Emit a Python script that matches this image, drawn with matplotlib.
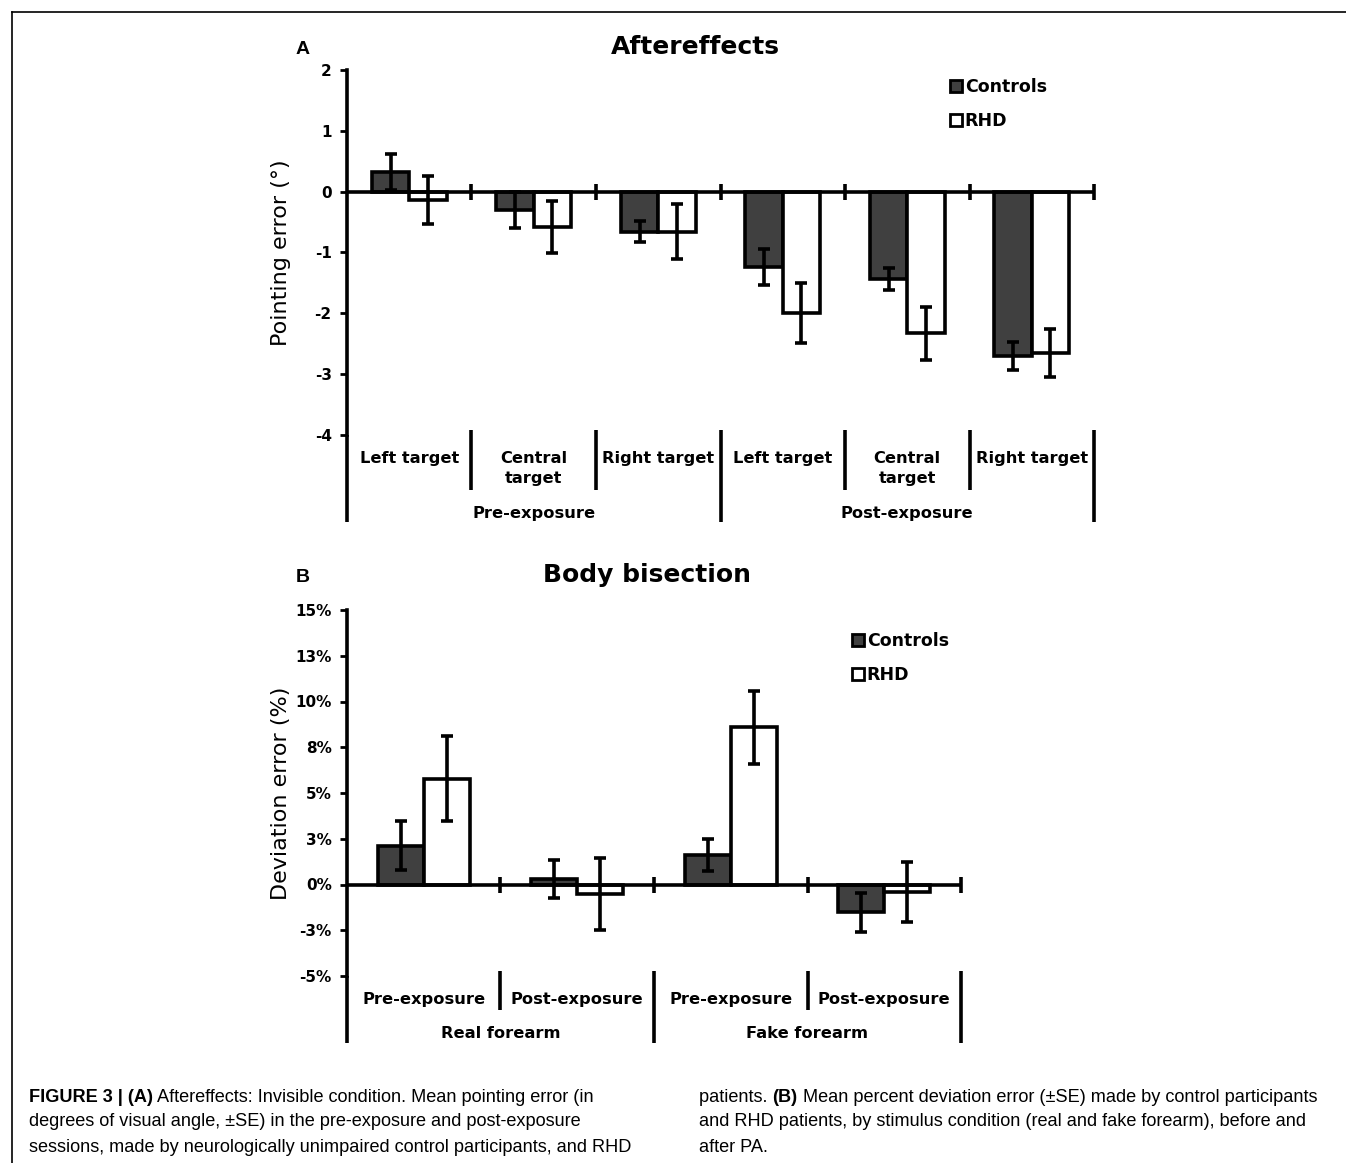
import numpy as np
import matplotlib
matplotlib.use('Agg')
from matplotlib import pyplot as plt
from matplotlib.lines import Line2D
from matplotlib.patches import Patch
import matplotlib.transforms as mtransforms

# Panel A: aftereffects (pointing error, degrees)
a_targets = ['Left target', 'Central\ntarget', 'Right target',
             'Left target', 'Central\ntarget', 'Right target']
a_groups = ['Pre-exposure', 'Post-exposure']
a_controls = [0.32, -0.30, -0.66, -1.24, -1.43, -2.70]
a_controls_se = [0.30, 0.29, 0.17, 0.30, 0.18, 0.23]
a_rhd = [-0.14, -0.58, -0.66, -1.99, -2.33, -2.65]
a_rhd_se = [0.39, 0.43, 0.45, 0.49, 0.44, 0.40]
a_yticks = [2, 1, 0, -1, -2, -3, -4]

# Panel B: body bisection (deviation error, %)
b_conditions = ['Pre-exposure', 'Post-exposure', 'Pre-exposure', 'Post-exposure']
b_groups = ['Real forearm', 'Fake forearm']
b_controls = [2.12, 0.31, 1.60, -1.52]
b_controls_se = [1.34, 1.05, 0.87, 1.07]
b_rhd = [5.78, -0.51, 8.60, -0.42]
b_rhd_se = [2.32, 1.95, 2.00, 1.64]
b_yticks = [15, 12.5, 10, 7.5, 5, 2.5, 0, -2.5, -5]
b_yticklabels = ['15%', '13%', '10%', '8%', '5%', '3%', '0%', '-3%', '-5%']

CTRL_COLOR = '#404040'
LW = 2.6
W, H = 1346, 1163


def draw_panel(ax, labels, groups, ctrl, ctrl_se, rhd, rhd_se, yticks, yticklabels,
               ylim, ylabel, title, letter, lab_y, grp_y, short_y, long_y,
               legend_anchor, title_x, title_y, letter_xy, ylabel_px):
    n = len(labels)
    x = np.arange(n)
    w = 0.3
    err_kw = dict(ecolor='black', elinewidth=LW, capsize=4, capthick=LW)
    ax.bar(x - w / 2, ctrl, w, color=CTRL_COLOR, edgecolor='black', linewidth=LW,
           yerr=ctrl_se, error_kw=err_kw, zorder=2)
    ax.bar(x + w / 2, rhd, w, color='white', edgecolor='black', linewidth=LW,
           yerr=rhd_se, error_kw=err_kw, zorder=2)

    ax.set_xlim(-0.5, n - 0.5)
    ax.set_ylim(*ylim)
    ax.set_yticks(yticks)
    ax.set_yticklabels(yticklabels if yticklabels else [str(t) for t in yticks])
    ax.tick_params(axis='y', direction='out', length=5, width=2, labelsize=11, pad=6)
    for lbl in ax.get_yticklabels():
        lbl.set_fontweight('bold')
    ax.set_xticks([])
    for s in ['top', 'right', 'bottom']:
        ax.spines[s].set_visible(False)
    ax.spines['left'].set_linewidth(LW)

    # zero line with category boundary marks
    ax.axhline(0, color='black', lw=LW, zorder=3)
    bounds = np.arange(n + 1) - 0.5
    ax.plot(bounds[1:], np.zeros(n), ls='none', marker='|', ms=11, mew=LW,
            color='black', zorder=3, clip_on=False)

    # multi-level category axis below the plot
    trans = mtransforms.blended_transform_factory(ax.transData, ax.transAxes)
    for i, lab in enumerate(labels):
        ax.text(x[i], lab_y, lab, transform=trans, ha='center', va='top',
                fontsize=11.7, fontweight='bold', linespacing=1.45)
    per = n // len(groups)
    for g, name in enumerate(groups):
        ax.text(g * per + per / 2 - 0.5, grp_y, name, transform=trans, ha='center',
                va='center', fontsize=11.7, fontweight='bold')
    for i, b in enumerate(bounds):
        if i % per == 0:
            y0 = 0.0 if i == 0 else 0.015
            ax.plot([b, b], [y0, long_y], transform=trans, color='black', lw=LW,
                    clip_on=False, solid_capstyle='butt')
        else:
            ax.plot([b, b], [0.015, short_y], transform=trans, color='black', lw=LW,
                    clip_on=False, solid_capstyle='butt')

    ax.set_ylabel(ylabel, fontsize=16)
    ax_w = ax.get_position().width * W
    ax.yaxis.set_label_coords(-ylabel_px / ax_w, 0.5)

    fig = ax.figure
    fig.text(title_x, title_y, title, ha='center', va='center', fontsize=18,
             fontweight='bold')
    fig.text(letter_xy[0], letter_xy[1], letter, ha='center', va='center',
             fontsize=14, fontweight='bold', family='Liberation Sans')

    handles = [Patch(facecolor=CTRL_COLOR, edgecolor='black', linewidth=2),
               Patch(facecolor='white', edgecolor='black', linewidth=2)]
    fig.legend(handles, ['Controls', 'RHD'], loc='upper left',
               bbox_to_anchor=legend_anchor, frameon=False,
               prop=dict(weight='bold', size=12.5), handlelength=0.7,
               handleheight=0.7, handletextpad=0.15, labelspacing=0.95,
               borderaxespad=0)


fig = plt.figure(figsize=(W / 100, H / 100), dpi=100)

axA = fig.add_axes([347 / W, 1 - 435 / H, (1094 - 347) / W, (435 - 70) / H])
draw_panel(axA, a_targets, a_groups, a_controls, a_controls_se, a_rhd, a_rhd_se,
           a_yticks, None, (-4, 2), 'Pointing error (°)', 'Aftereffects', 'A',
           lab_y=-0.044, grp_y=-0.214, short_y=-0.152, long_y=-0.238,
           legend_anchor=(943 / W, 1 - 71 / H), title_x=695 / W,
           title_y=1 - 47 / H, letter_xy=(303 / W, 1 - 50 / H), ylabel_px=56)

axB = fig.add_axes([347 / W, 1 - 976 / H, (961 - 347) / W, (976 - 610) / H])
draw_panel(axB, b_conditions, b_groups, b_controls, b_controls_se, b_rhd, b_rhd_se,
           b_yticks, b_yticklabels, (-5, 15), 'Deviation error (%)', 'Body bisection',
           'B', lab_y=-0.044, grp_y=-0.156, short_y=-0.093, long_y=-0.183,
           legend_anchor=(845 / W, 1 - 625 / H), title_x=647 / W,
           title_y=1 - 575 / H, letter_xy=(303 / W, 1 - 578 / H), ylabel_px=56)

# frame lines around the figure
fig.add_artist(Line2D([12 / W, 1], [1 - 12 / H, 1 - 12 / H], color='black', lw=1.2))
fig.add_artist(Line2D([12 / W, 12 / W], [0, 1 - 12 / H], color='black', lw=1.2))

# caption, mixed bold/regular
cap_font = ['Liberation Sans', 'DejaVu Sans']
cap_size = 13.1
renderer = fig.canvas.get_renderer()


def caption_line(x_px, y_px, parts):
    xpos = x_px
    for txt, bold in parts:
        t = fig.text(xpos / W, 1 - y_px / H, txt, ha='left', va='center',
                     fontsize=cap_size, family=cap_font,
                     fontweight='bold' if bold else 'normal')
        bb = t.get_window_extent(renderer=renderer)
        xpos += bb.width


caption_left = [
    [('FIGURE 3 | (A)', True), (' Aftereffects: Invisible condition. Mean pointing error (in', False)],
    [('degrees of visual angle, \u00b1SE) in the pre-exposure and post-exposure', False)],
    [('sessions, made by neurologically unimpaired control participants, and RHD', False)],
]
caption_right = [
    [('patients. ', False), ('(B)', True), (' Mean percent deviation error (\u00b1SE) made by control participants', False)],
    [('and RHD patients, by stimulus condition (real and fake forearm), before and', False)],
    [('after PA.', False)],
]
for i, parts in enumerate(caption_left):
    caption_line(29, 1097 + 25 * i, parts)
for i, parts in enumerate(caption_right):
    caption_line(699, 1097 + 25 * i, parts)

fig.savefig('out.png', dpi=100)
